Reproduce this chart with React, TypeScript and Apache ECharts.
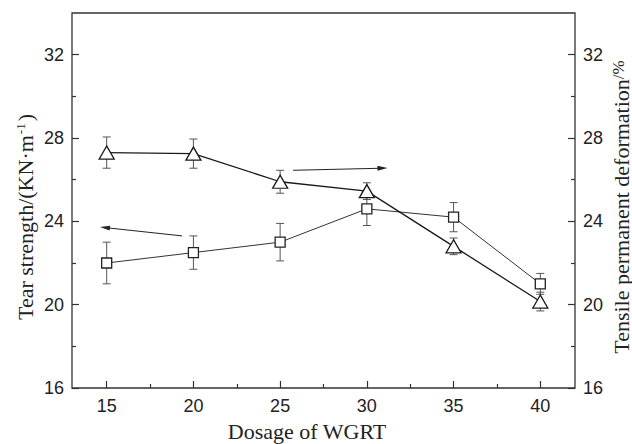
import { useEffect, useRef } from "react";
import * as echarts from "echarts";

// Dosage of WGRT (x) and the two measured properties with their error half-widths
const dosage = [15, 20, 25, 30, 35, 40];
const tearStrength = [22.0, 22.5, 23.0, 24.6, 24.2, 21.0];
const tearError = [1.0, 0.8, 0.9, 0.8, 0.7, 0.5];
const deformation = [27.3, 27.25, 25.9, 25.45, 22.8, 20.15];
const deformationError = [0.75, 0.7, 0.55, 0.4, 0.4, 0.45];

// Axis ticks
const xTickLabels = [15, 20, 25, 30, 35, 40];
const xMinorTicks = [17.5, 22.5, 27.5, 32.5, 37.5];
const yTickLabels = [16, 20, 24, 28, 32];
const yMinorTicks = [18, 22, 26, 30];

// Pointer arrows telling which curve belongs to which axis: [from, to]
const leftArrow = [[19.35, 23.3], [14.9, 23.7]];
const rightArrow = [[25.75, 26.45], [30.9, 26.55]];

const SANS = '"Liberation Sans", Arial, sans-serif';
const SERIF = '"Liberation Serif", "Times New Roman", serif';
const INK = "#222";
const AXIS = "#333";

function errorRows(values: number[], errs: number[]) {
  return dosage.map((x, i) => [x, values[i] - errs[i], values[i] + errs[i]]);
}

function errorBarSeries(rows: number[][], yAxisIndex: number) {
  return {
    type: "custom",
    yAxisIndex,
    z: 1,
    silent: true,
    data: rows,
    encode: { x: 0, y: [1, 2] },
    renderItem: (_params: any, api: any) => {
      const x = api.value(0);
      const top = api.coord([x, api.value(2)]);
      const bot = api.coord([x, api.value(1)]);
      const w = 4;
      const style = { stroke: "#555", lineWidth: 1, fill: "none" };
      return {
        type: "group",
        children: [
          { type: "line", shape: { x1: top[0], y1: top[1], x2: bot[0], y2: bot[1] }, style },
          { type: "line", shape: { x1: top[0] - w, y1: top[1], x2: top[0] + w, y2: top[1] }, style },
          { type: "line", shape: { x1: bot[0] - w, y1: bot[1], x2: bot[0] + w, y2: bot[1] }, style },
        ],
      };
    },
  };
}

function arrowMarkLine(arrow: number[][]) {
  return {
    silent: true,
    symbol: ["none", "triangle"],
    symbolSize: [5, 10],
    label: { show: false },
    lineStyle: { color: INK, width: 1, type: "solid" },
    emphasis: { disabled: true },
    data: [[{ coord: arrow[0] }, { coord: arrow[1] }]],
  };
}

function yAxis(position: "left" | "right", ticks: number[], labels: boolean, len: number) {
  return {
    type: "value",
    position,
    min: 16,
    max: 34,
    axisLine: { show: false },
    splitLine: { show: false },
    axisTick: {
      show: true,
      inside: true,
      length: len,
      customValues: ticks,
      lineStyle: { color: AXIS, width: 1.2 },
    },
    axisLabel: labels
      ? { show: true, customValues: ticks, margin: 8, fontSize: 18, fontFamily: SANS, color: INK }
      : { show: false },
  };
}

export default function App() {
  const ref = useRef<HTMLDivElement>(null);

  useEffect(() => {
    if (!ref.current) return;
    const chart = echarts.init(ref.current, undefined, { renderer: "svg" });

    chart.setOption({
      animation: false,
      backgroundColor: "#fff",
      grid: {
        left: 72,
        right: 57,
        top: 13,
        bottom: 56,
        show: true,
        borderColor: AXIS,
        borderWidth: 1.3,
        backgroundColor: "transparent",
      },
      xAxis: [
        {
          type: "value",
          min: 13,
          max: 42,
          axisLine: { show: false },
          splitLine: { show: false },
          axisTick: {
            show: true,
            inside: true,
            length: 7,
            customValues: xTickLabels,
            lineStyle: { color: AXIS, width: 1.2 },
          },
          axisLabel: {
            show: true,
            customValues: xTickLabels,
            margin: 9,
            fontSize: 18,
            fontFamily: SANS,
            color: INK,
          },
        },
        {
          type: "value",
          min: 13,
          max: 42,
          position: "bottom",
          axisLine: { show: false },
          splitLine: { show: false },
          axisTick: {
            show: true,
            inside: true,
            length: 4,
            customValues: xMinorTicks,
            lineStyle: { color: AXIS, width: 1.2 },
          },
          axisLabel: { show: false },
        },
      ],
      yAxis: [
        yAxis("left", yTickLabels, true, 7),
        yAxis("right", yTickLabels, true, 7),
        yAxis("left", yMinorTicks, false, 4),
        yAxis("right", yMinorTicks, false, 4),
      ],
      series: [
        errorBarSeries(errorRows(tearStrength, tearError), 0),
        errorBarSeries(errorRows(deformation, deformationError), 1),
        {
          name: "Tear strength",
          type: "line",
          yAxisIndex: 0,
          z: 3,
          data: dosage.map((x, i) => [x, tearStrength[i]]),
          symbol: "rect",
          symbolSize: 10,
          showAllSymbol: true,
          lineStyle: { color: "#333", width: 1 },
          itemStyle: { color: "#fff", borderColor: "#222", borderWidth: 1.3 },
          emphasis: { disabled: true },
          markLine: arrowMarkLine(leftArrow),
        },
        {
          name: "Tensile permanent deformation",
          type: "line",
          yAxisIndex: 1,
          z: 3,
          data: dosage.map((x, i) => [x, deformation[i]]),
          symbol: "triangle",
          symbolSize: [15, 13],
          showAllSymbol: true,
          lineStyle: { color: "#1a1a1a", width: 1.3 },
          itemStyle: { color: "#fff", borderColor: "#1a1a1a", borderWidth: 1.3 },
          emphasis: { disabled: true },
          markLine: arrowMarkLine(rightArrow),
        },
      ],
      graphic: [
        {
          type: "text",
          x: 307,
          y: 431,
          style: {
            text: "Dosage of WGRT",
            font: `22px ${SERIF}`,
            fill: INK,
            align: "center",
            verticalAlign: "middle",
          },
        },
        {
          type: "text",
          x: 25,
          y: 217,
          rotation: Math.PI / 2,
          style: {
            text: "{a|Tear strength/(KN·m}{s|-1}{a|)}",
            fill: INK,
            align: "center",
            verticalAlign: "middle",
            rich: {
              a: { font: `22px ${SERIF}`, fill: INK },
              s: { font: `13px ${SERIF}`, fill: INK, verticalAlign: "top", padding: [0, 2, 0, 1] },
            },
          },
        },
        {
          type: "text",
          x: 621,
          y: 207,
          rotation: Math.PI / 2,
          style: {
            text: "{a|Tensile permanent deformation}{s|/%}",
            fill: INK,
            align: "center",
            verticalAlign: "middle",
            rich: {
              a: { font: `22px ${SERIF}`, fill: INK },
              s: { font: `17px ${SERIF}`, fill: INK, verticalAlign: "top" },
            },
          },
        },
      ],
    });

    return () => chart.dispose();
  }, []);

  return (
    <div
      ref={ref}
      style={{ position: "absolute", left: 0, top: 0, width: 632, height: 444 }}
    />
  );
}
